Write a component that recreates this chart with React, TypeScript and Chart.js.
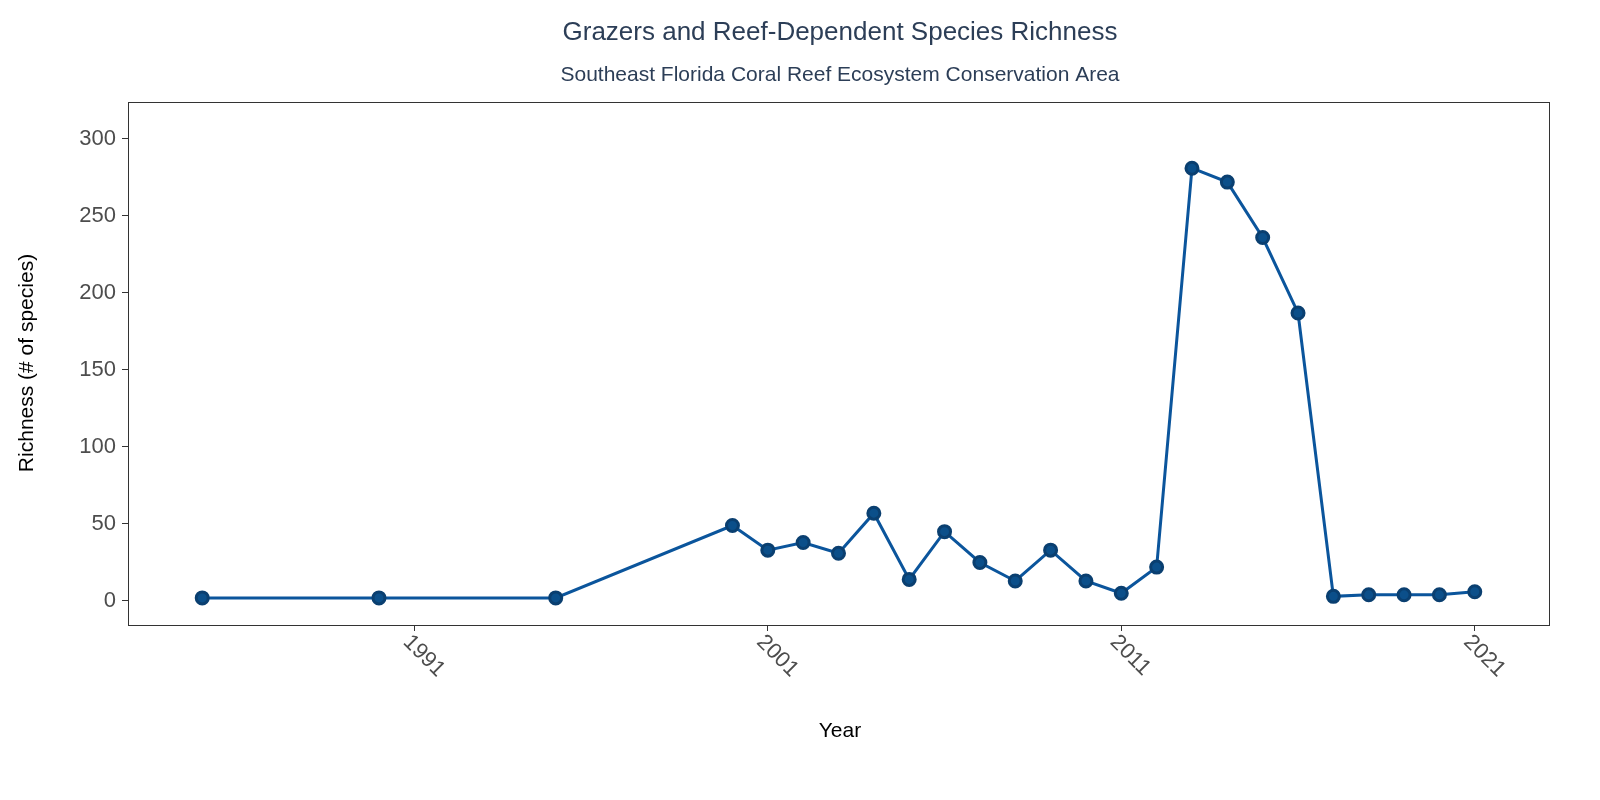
import { useEffect, useRef } from 'react'
import { Chart, registerables } from 'chart.js'
Chart.register(...registerables)

const years = [1985, 1990, 1995, 2000, 2001, 2002, 2003, 2004, 2005, 2006, 2007, 2008, 2009, 2010, 2011, 2012, 2013, 2014, 2015, 2016, 2017, 2018, 2019, 2020, 2021]
const richness = [2, 2, 2, 49, 33, 38, 31, 57, 14, 45, 25, 13, 33, 13, 5, 22, 281, 272, 236, 187, 3, 4, 4, 4, 6]
const xTicks = [1991, 2001, 2011, 2021]
const yTicks = [0, 50, 100, 150, 200, 250, 300]
const title = 'Grazers and Reef-Dependent Species Richness'
const subtitle = 'Southeast Florida Coral Reef Ecosystem Conservation Area'

const decor = {
  id: 'decor',
  afterDraw(c: any) {
    const ctx = c.ctx
    const a = c.chartArea
    ctx.save()
    ctx.strokeStyle = '#333'
    ctx.lineWidth = 1
    ctx.strokeRect(a.left + 0.5, a.top + 0.5, a.right - a.left, a.bottom - a.top)
    ctx.fillStyle = '#2c3e57'
    ctx.textAlign = 'center'
    ctx.font = '26px "Liberation Sans", Arial'
    ctx.fillText(title, 840, 40)
    ctx.font = '21px "Liberation Sans", Arial'
    ctx.fillText(subtitle, 840, 81)
    ctx.fillStyle = '#000'
    ctx.font = '21px "Liberation Sans", Arial'
    ctx.fillText('Year', 840, 737)
    ctx.save()
    ctx.translate(33, 363)
    ctx.rotate(-Math.PI / 2)
    ctx.fillText('Richness (# of species)', 0, 0)
    ctx.restore()
    ctx.fillStyle = '#4d4d4d'
    ctx.font = '22px "Liberation Sans", Arial'
    ctx.textAlign = 'left'
    const xs = c.scales.x
    xTicks.forEach((t) => {
      const px = xs.getPixelForValue(t)
      ctx.save()
      ctx.translate(px - 12, a.bottom + 18)
      ctx.rotate(Math.PI / 4)
      ctx.fillText(String(t), 0, 0)
      ctx.restore()
    })
    ctx.restore()
  },
}

export default function App() {
  const canvas = useRef<HTMLCanvasElement>(null)
  useEffect(() => {
    document.body.style.margin = '0'
    const chart = new Chart(canvas.current as any, {
      type: 'line',
      data: {
        datasets: [
          {
            data: years.map((y, i) => ({ x: y, y: richness[i] })),
            borderColor: '#0b559c',
            backgroundColor: '#0b4f8a',
            pointBackgroundColor: '#0b4f8a',
            pointBorderColor: '#0a3f70',
            pointRadius: 6,
            borderWidth: 3,
            tension: 0,
          },
        ],
      },
      plugins: [decor],
      options: {
        animation: false,
        responsive: false,
        layout: { padding: { top: 102, right: 51, left: 0, bottom: 0 } },
        plugins: { legend: { display: false }, tooltip: { enabled: false } },
        scales: {
          x: {
            type: 'linear',
            min: 1982.9,
            max: 2023.1,
            afterBuildTicks: (s: any) => { s.ticks = xTicks.map((v) => ({ value: v })) },
            afterFit: (s: any) => { s.height = 175 },
            ticks: { display: false },
            grid: { drawOnChartArea: false, tickLength: 6, color: '#333' },
            border: { display: false },
          },
          y: {
            min: -15.6,
            max: 324,
            afterBuildTicks: (s: any) => { s.ticks = yTicks.map((v) => ({ value: v })) },
            afterFit: (s: any) => { s.width = 128 },
            ticks: { color: '#4d4d4d', font: { size: 22, family: '"Liberation Sans", Arial' }, padding: 6 },
            grid: { drawOnChartArea: false, tickLength: 6, color: '#333' },
            border: { display: false },
          },
        },
      },
    })
    return () => chart.destroy()
  }, [])
  return (
    <div style={{ width: 1600, height: 800, background: '#fff' }}>
      <canvas ref={canvas} width={1600} height={800}></canvas>
    </div>
  )
}
